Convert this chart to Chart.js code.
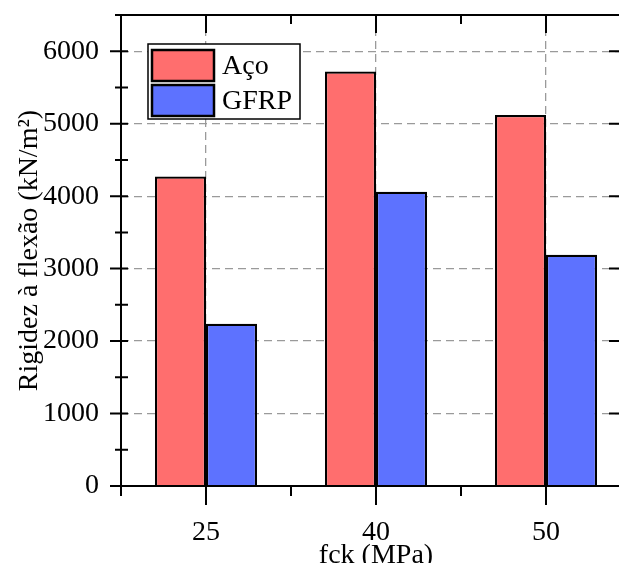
<!DOCTYPE html>
<html lang="pt">
<head>
    <meta charset="UTF-8">
    <title>Rigidez à flexão</title>
    <script src="https://cdn.jsdelivr.net/npm/chart.js"></script>
    <style>
        html, body { margin: 0; padding: 0; background: #fff; overflow: hidden; }
        #wrap { position: absolute; left: 0; top: 0; width: 650px; height: 580px; }
    </style>
</head>
<body>
    <div id="wrap"><canvas id="chart"></canvas></div>
    <script>
        const categories = ['25', '40', '50'];
        const aco = [4270, 5720, 5120];
        const gfrp = [2240, 4060, 3190];
        const yTicks = [0, 1000, 2000, 3000, 4000, 5000, 6000];
        const yMinorTicks = [500, 1500, 2500, 3500, 4500, 5500, 6500];

        const FONT = 'Liberation Serif';

        // frame, ticks and legend drawn like Origin does it
        const framePlugin = {
            id: 'frame',
            afterDraw(chart) {
                const ctx = chart.ctx;
                const a = chart.chartArea;
                const x = chart.scales.x, y = chart.scales.y;
                ctx.save();
                ctx.strokeStyle = '#000';
                ctx.lineWidth = 2;
                ctx.beginPath();
                ctx.moveTo(a.left, a.top); ctx.lineTo(a.right, a.top);
                ctx.moveTo(a.left, a.bottom); ctx.lineTo(a.right, a.bottom);
                ctx.moveTo(a.left, a.top); ctx.lineTo(a.left, a.bottom);
                ctx.moveTo(a.right, a.top); ctx.lineTo(a.right, a.bottom);
                // y ticks
                yTicks.forEach(v => {
                    const py = y.getPixelForValue(v);
                    ctx.moveTo(a.left - 11, py); ctx.lineTo(a.left + 7, py);
                    ctx.moveTo(a.right - 22, py); ctx.lineTo(a.right + 11, py);
                });
                yMinorTicks.forEach(v => {
                    const py = y.getPixelForValue(v);
                    ctx.moveTo(a.left - 6, py); ctx.lineTo(a.left + 7, py);
                    ctx.moveTo(a.right - 12, py); ctx.lineTo(a.right + 6, py);
                });
                // x ticks
                categories.forEach((c, i) => {
                    const px = x.getPixelForValue(i);
                    ctx.moveTo(px, a.bottom); ctx.lineTo(px, a.bottom + 19);
                    ctx.moveTo(px, a.top); ctx.lineTo(px, a.top + 18);
                });
                for (let i = -0.5; i < categories.length; i += 1) {
                    const px = x.getPixelForValue(i);
                    ctx.moveTo(px, a.bottom); ctx.lineTo(px, a.bottom + 10);
                    ctx.moveTo(px, a.top); ctx.lineTo(px, a.top + 9);
                }
                ctx.stroke();

                // legend
                const lx = 148, ly = 44, lw = 152, lh = 75;
                ctx.fillStyle = '#fff';
                ctx.fillRect(lx, ly, lw, lh);
                ctx.lineWidth = 1.5;
                ctx.strokeRect(lx, ly, lw, lh);
                ctx.font = '28px "' + FONT + '"';
                ctx.textBaseline = 'middle';
                chart.data.datasets.forEach((ds, i) => {
                    const sy = 50 + i * 35;
                    ctx.fillStyle = ds.backgroundColor;
                    ctx.fillRect(152, sy, 62, 31);
                    ctx.lineWidth = 2.5;
                    ctx.strokeRect(152, sy, 62, 31);
                    ctx.fillStyle = '#000';
                    ctx.fillText(ds.label, 222, sy + 17);
                });
                ctx.restore();
            }
        };

        new Chart(document.getElementById('chart'), {
            type: 'bar',
            data: {
                labels: categories,
                datasets: [
                    { label: 'Aço', data: aco, backgroundColor: '#ff6e6e', borderColor: '#000', borderWidth: 2.2 },
                    { label: 'GFRP', data: gfrp, backgroundColor: '#5d72ff', borderColor: '#000', borderWidth: 2.2 }
                ]
            },
            options: {
                responsive: true,
                maintainAspectRatio: false,
                animation: false,
                layout: { padding: { top: 15, right: 19, left: 0, bottom: 0 } },
                datasets: { bar: { categoryPercentage: 0.6, barPercentage: 1.0 } },
                plugins: { legend: { display: false }, tooltip: { enabled: false } },
                scales: {
                    x: {
                        grid: { offset: false, drawTicks: false, color: '#9a9a9a', lineWidth: 1.3 },
                        border: { display: false, dash: [8, 5] },
                        ticks: { color: '#000', font: { family: FONT, size: 28 }, padding: 30 },
                        title: { display: true, text: 'fck (MPa)', color: '#000', font: { family: FONT, size: 28 }, padding: { top: 0, bottom: 8 } },
                        afterFit: s => { s.height = 94; s.paddingLeft = 0; s.paddingRight = 0; }
                    },
                    y: {
                        min: 0, max: 6500,
                        afterBuildTicks: s => { s.ticks = yTicks.map(v => ({ value: v })); },
                        grid: { drawTicks: false, color: '#9a9a9a', lineWidth: 1.3 },
                        border: { display: false, dash: [8, 5] },
                        ticks: { color: '#000', font: { family: FONT, size: 28 }, padding: 22, callback: v => String(v) },
                        title: { display: true, text: 'Rigidez à flexão (kN/m²)', color: '#000', font: { family: FONT, size: 28 }, padding: { top: 13, bottom: 0 } },
                        afterFit: s => { s.width = 121; s.paddingTop = 0; s.paddingBottom = 0; }
                    }
                }
            },
            plugins: [framePlugin]
        });
    </script>
</body>
</html>
